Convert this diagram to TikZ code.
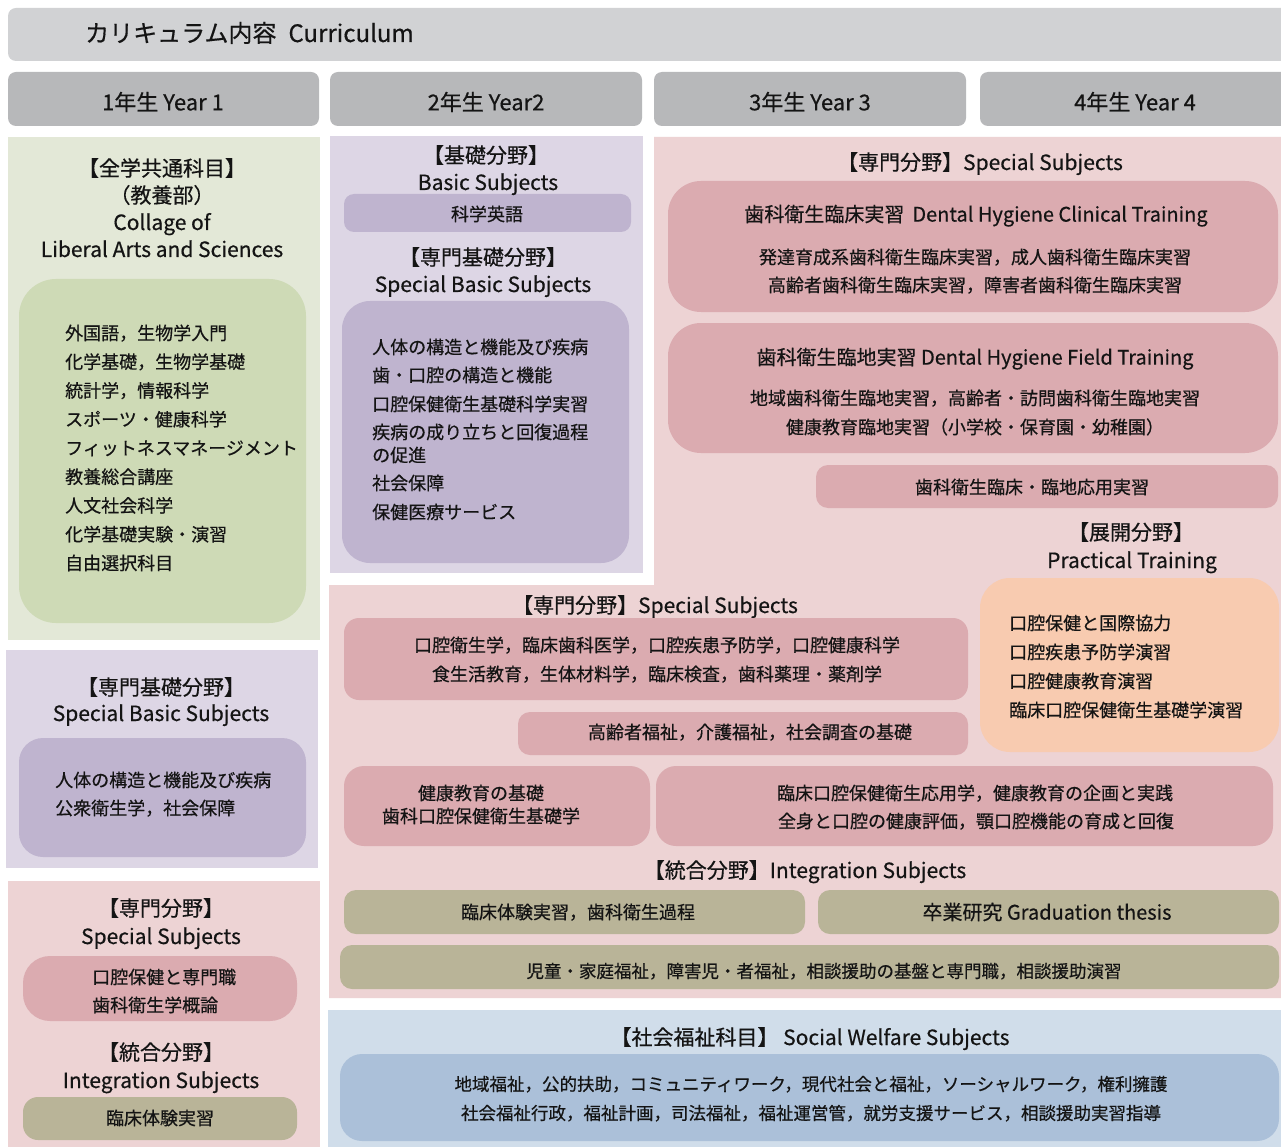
\documentclass[tikz,border=0pt]{standalone}
\usepackage{fontspec}
\setmainfont{Noto Sans CJK JP}[FakeBold=0.5]
\definecolor{titlegray}{HTML}{D1D2D4}
\definecolor{yeargray}{HTML}{B7B8BA}
\definecolor{grnbg}{HTML}{E3E8D7}
\definecolor{grnin}{HTML}{CEDAB6}
\definecolor{purbg}{HTML}{DDD6E5}
\definecolor{purin}{HTML}{BFB4CF}
\definecolor{pnkbg}{HTML}{EDD3D4}
\definecolor{pnkin}{HTML}{DBABB0}
\definecolor{orgin}{HTML}{F8CBB0}
\definecolor{olvin}{HTML}{B9B498}
\definecolor{blubg}{HTML}{D0DDEA}
\definecolor{bluin}{HTML}{ABC0D9}
\definecolor{ink}{HTML}{141414}
\begin{document}
\begin{tikzpicture}[x=1pt,y=-1pt,
  txt/.style={inner sep=0pt, text=ink},
  ttl/.style={txt, font=\fontsize{24}{28}\selectfont, text height=21pt, text depth=3pt},
  yr/.style={txt, font=\fontsize{22}{26}\selectfont, text height=19.4pt, text depth=2.6pt},
  hd/.style={txt, font=\fontsize{21}{25}\selectfont, text height=18.5pt, text depth=2.5pt},
  sub/.style={txt, font=\fontsize{20}{24}\selectfont, text height=17.6pt, text depth=2.4pt},
  it/.style={txt, font=\fontsize{18}{22}\selectfont, text height=15.8pt, text depth=2.2pt},
  itsm/.style={txt, font=\fontsize{17.5}{21}\selectfont, text height=15.4pt, text depth=2.1pt},
  itl/.style={it, anchor=west},
]
\useasboundingbox (0,0) rectangle (1281,1147);
\fill[white] (0,0) rectangle (1281,1147);

% ---------- title and year headers
\fill[titlegray, rounded corners=8pt] (8,8) rectangle (1295,61);
\node[ttl, anchor=west] (title) at (85,33) {カリキュラム内容\hspace{12pt}Curriculum};
\fill[yeargray, rounded corners=8pt] (8,72) rectangle (319,126);
\fill[yeargray, rounded corners=8pt] (330,72) rectangle (642,126);
\fill[yeargray, rounded corners=8pt] (654,72) rectangle (966,126);
\fill[yeargray, rounded corners=8pt] (980,72) rectangle (1295,126);
\node[yr] (y1) at (163,102) {1年生 Year 1};
\node[yr] (y2) at (486,102) {2年生 Year2};
\node[yr] (y3) at (810,102) {3年生 Year 3};
\node[yr] (y4) at (1135,102) {4年生 Year 4};

% ---------- Year 1 : general education
\fill[grnbg] (8,137) rectangle (320,640);
\fill[grnin, rounded corners=37pt] (19,279) rectangle (306,623);
\node[hd] (g-h1) at (162,168) {【全学共通科目】};
\node[hd] (g-h2) at (162,195) {（教養部）};
\node[hd] (g-h3) at (162,222) {Collage of};
\node[hd] (g-h4) at (162,249) {Liberal Arts and Sciences};
\foreach \t [count=\i] in {外国語，生物学入門, 化学基礎，生物学基礎, 統計学，情報科学,
  スポーツ・健康科学, フィットネスマネージメント, 教養総合講座, 人文社会科学,
  化学基礎実験・演習, 自由選択科目}
  \node[itl] (g\i) at (65,{333+28.75*(\i-1)}) {\t};

% ---------- Year 1 : special basic
\fill[purbg] (6,650) rectangle (318,868);
\fill[purin, rounded corners=24pt] (19,738) rectangle (306,857);
\node[hd] (p1-h1) at (161,687) {【専門基礎分野】};
\node[hd] (p1-h2) at (161,713) {Special Basic Subjects};
\node[itl] (p1-a) at (55,780) {人体の構造と機能及び疾病};
\node[itl] (p1-b) at (55,808) {公衆衛生学，社会保障};

% ---------- Year 1 : special / integration
\fill[pnkbg] (8,881) rectangle (320,1150);
\fill[pnkin, rounded corners=27pt] (23,956) rectangle (297,1021);
\fill[olvin, rounded corners=15pt] (23,1097) rectangle (297,1140);
\node[hd] (k1-h1) at (161,908) {【専門分野】};
\node[hd] (k1-h2) at (161,936) {Special Subjects};
\node[itl] (k1-a) at (92,977) {口腔保健と専門職};
\node[itl] (k1-b) at (92,1005) {歯科衛生学概論};
\node[hd] (k1-h3) at (161,1052) {【統合分野】};
\node[hd] (k1-h4) at (161,1080) {Integration Subjects};
\node[it] (k1-c) at (160,1118) {臨床体験実習};

% ---------- Year 2 : basic / special basic
\fill[purbg] (330,136) rectangle (643,573);
\fill[purin, rounded corners=10pt] (344,194) rectangle (631,232);
\fill[purin, rounded corners=28pt] (342,301) rectangle (629,563);
\node[hd] (p2-h1) at (486,155) {【基礎分野】};
\node[hd] (p2-h2) at (488,182) {Basic Subjects};
\node[it] (p2-a) at (487,214) {科学英語};
\node[hd] (p2-h3) at (483,257) {【専門基礎分野】};
\node[hd] (p2-h4) at (483,284) {Special Basic Subjects};
\node[itl] (p2-1) at (372,347) {人体の構造と機能及び疾病};
\node[itl] (p2-2) at (372,375) {歯・口腔の構造と機能};
\node[itl] (p2-3) at (372,404) {口腔保健衛生基礎科学実習};
\node[itl] (p2-4) at (372,432) {疾病の成り立ちと回復過程};
\node[itl] (p2-5) at (372,455) {の促進};
\node[itl] (p2-6) at (372,483) {社会保障};
\node[itl] (p2-7) at (372,512) {保健医療サービス};

% ---------- Years 2-4 : special subjects region
\fill[pnkbg] (654,137) -- (1281,137) -- (1281,998) -- (329,998) -- (329,585) -- (654,585) -- cycle;
\node[hd] (s-h1) at (980,162) {【専門分野】Special Subjects};
\fill[pnkin, rounded corners=33pt] (668,181) rectangle (1278,312);
\node[sub] (cl-t) at (976,214) {歯科衛生臨床実習\hspace{8pt}Dental Hygiene Clinical Training};
\node[it] (cl-1) at (975,257) {発達育成系歯科衛生臨床実習，成人歯科衛生臨床実習};
\node[it] (cl-2) at (975,285) {高齢者歯科衛生臨床実習，障害者歯科衛生臨床実習};
\fill[pnkin, rounded corners=33pt] (668,323) rectangle (1278,453);
\node[sub] (fd-t) at (975,357) {歯科衛生臨地実習 Dental Hygiene Field Training};
\node[it] (fd-1) at (975,398) {地域歯科衛生臨地実習，高齢者・訪問歯科衛生臨地実習};
\node[it] (fd-2) at (975,427) {健康教育臨地実習（小学校・保育園・幼稚園）};
\fill[pnkin, rounded corners=12pt] (816,465) rectangle (1278,508);
\node[it] (ap) at (1032,487) {歯科衛生臨床・臨地応用実習};
\node[hd] (pr-h1) at (1131,532) {【展開分野】};
\node[hd] (pr-h2) at (1132,560) {Practical Training};
\fill[orgin, rounded corners=30pt] (980,578) rectangle (1279,752);
\node[itl] (pr-1) at (1009,623) {口腔保健と国際協力};
\node[itl] (pr-2) at (1009,652) {口腔疾患予防学演習};
\node[itl] (pr-3) at (1009,681) {口腔健康教育演習};
\node[itl] (pr-4) at (1009,710) {臨床口腔保健衛生基礎学演習};

\node[hd] (s-h2) at (655,605) {【専門分野】Special Subjects};
\fill[pnkin, rounded corners=15pt] (344,618) rectangle (968,700);
\node[it] (b1-1) at (657,645) {口腔衛生学，臨床歯科医学，口腔疾患予防学，口腔健康科学};
\node[it] (b1-2) at (657,674) {食生活教育，生体材料学，臨床検査，歯科薬理・薬剤学};
\fill[pnkin, rounded corners=12pt] (518,712) rectangle (968,755);
\node[it] (b2) at (750,732) {高齢者福祉，介護福祉，社会調査の基礎};
\fill[pnkin, rounded corners=20pt] (344,766) rectangle (650,846);
\node[it] (b3-1) at (481,793) {健康教育の基礎};
\node[it] (b3-2) at (481,816) {歯科口腔保健衛生基礎学};
\fill[pnkin, rounded corners=20pt] (656,766) rectangle (1273,846);
\node[it] (b4-1) at (975,793) {臨床口腔保健衛生応用学，健康教育の企画と実践};
\node[it] (b4-2) at (976,821) {全身と口腔の健康評価，顎口腔機能の育成と回復};

\node[hd] (in-h) at (805,870) {【統合分野】Integration Subjects};
\fill[olvin, rounded corners=12pt] (344,890) rectangle (805,934);
\node[it] (in-1) at (578,912) {臨床体験実習，歯科衛生過程};
\fill[olvin, rounded corners=12pt] (818,890) rectangle (1279,934);
\node[sub] (in-2) at (1047,912) {卒業研究 Graduation thesis};
\fill[olvin, rounded corners=12pt] (340,945) rectangle (1279,989);
\node[itsm] (in-3) at (824,971) {児童・家庭福祉，障害児・者福祉，相談援助の基盤と専門職，相談援助演習};

% ---------- social welfare
\fill[blubg] (328,1010) rectangle (1281,1150);
\node[hd] (sw-h) at (810,1037) {【社会福祉科目】 Social Welfare Subjects};
\fill[bluin, rounded corners=22pt] (340,1054) rectangle (1279,1141);
\node[itsm] (sw-1) at (811,1084) {地域福祉，公的扶助，コミュニティワーク，現代社会と福祉，ソーシャルワーク，権利擁護};
\node[itsm] (sw-2) at (811,1113) {社会福祉行政，福祉計画，司法福祉，福祉運営管，就労支援サービス，相談援助実習指導};
\end{tikzpicture}
\end{document}
